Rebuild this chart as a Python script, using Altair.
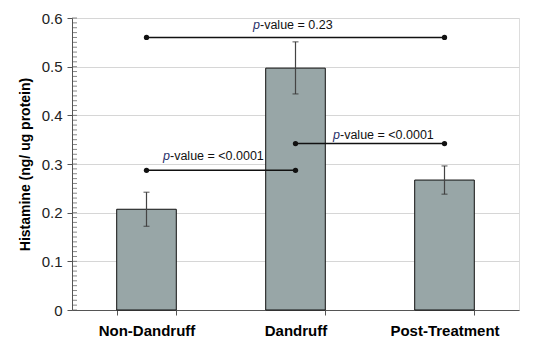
import altair as alt
import pandas as pd

categories = ["Non-Dandruff", "Dandruff", "Post-Treatment"]
means = [0.207, 0.497, 0.267]
err_lo = [0.172, 0.444, 0.238]
err_hi = [0.242, 0.551, 0.296]

bracket_from = ["Non-Dandruff", "Dandruff", "Non-Dandruff"]
bracket_to = ["Post-Treatment", "Post-Treatment", "Dandruff"]
bracket_level = [0.56, 0.342, 0.287]
p_values = ["0.23", "<0.0001", "<0.0001"]
label_anchor = ["Dandruff", "Dandruff", "Non-Dandruff"]
label_dx = [-35.5, 44.5, 23.5]
label_dy = [-8, -5, -10]

y_ticks = [0, 0.1, 0.2, 0.3, 0.4, 0.5, 0.6]
minor_ticks = [round(i * 0.01, 2) for i in range(61)]

FONT = "Liberation Sans"

bars_df = pd.DataFrame({"cat": categories, "mean": means, "lo": err_lo, "hi": err_hi})
br_df = pd.DataFrame({"a": bracket_from, "b": bracket_to, "level": bracket_level})
pts_df = pd.DataFrame({
    "cat": bracket_from + bracket_to,
    "level": bracket_level + bracket_level,
})
minor_df = pd.DataFrame({"v": minor_ticks})

xscale = alt.Scale(domain=categories, paddingInner=0.6, paddingOuter=0.3)
yscale = alt.Scale(domain=[0, 0.6], nice=False, zero=True)

xaxis = alt.Axis(title=None, tickBand="extent", labelAngle=0,
                 labelFont=FONT, labelFontSize=15, labelFontWeight="bold",
                 labelColor="#000", labelPadding=8, tickSize=5,
                 tickColor="#555", domainColor="#555", grid=False)
yaxis = alt.Axis(title="Histamine (ng/ ug protein)", values=y_ticks,
                 labelExpr="datum.value == 0 ? '0' : format(datum.value, '.1f')",
                 titleFont=FONT, titleFontSize=14, titleFontWeight="bold",
                 titleColor="#000", titlePadding=9,
                 labelFont=FONT, labelFontSize=15, labelColor="#222",
                 labelPadding=5, tickSize=5, tickColor="#555",
                 domainColor="#555", gridColor="#d6d6d6")


def X(field):
    return alt.X(field, scale=xscale, sort=categories, axis=xaxis)


def Y(field):
    return alt.Y(field, scale=yscale, axis=yaxis)


bars = alt.Chart(bars_df).mark_bar(color="#98a6a7", stroke="#111", strokeWidth=1).encode(
    x=X("cat:N"), y=Y("mean:Q"),
)

err = alt.Chart(bars_df).mark_rule(color="#444", strokeWidth=1.2).encode(
    x=X("cat:N"), y=Y("lo:Q"), y2="hi:Q",
)
cap_lo = alt.Chart(bars_df).mark_tick(color="#333", size=6, thickness=1.2, orient="horizontal").encode(
    x=X("cat:N"), y=Y("lo:Q"),
)
cap_hi = alt.Chart(bars_df).mark_tick(color="#333", size=6, thickness=1.2, orient="horizontal").encode(
    x=X("cat:N"), y=Y("hi:Q"),
)

brackets = alt.Chart(br_df).mark_rule(color="#111", strokeWidth=1.5).encode(
    x=X("a:N"), x2="b:N", y=Y("level:Q"),
)
points = alt.Chart(pts_df).mark_circle(color="#111", size=28, opacity=1).encode(
    x=X("cat:N"), y=Y("level:Q"),
)

minor = alt.Chart(minor_df).mark_tick(color="#555", size=5, thickness=1, orient="horizontal").encode(
    x=alt.value(2.5),
    y=Y("v:Q"),
)

texts = []
for anchor, lvl, pv, dx, dy in zip(label_anchor, bracket_level, p_values, label_dx, label_dy):
    d = pd.DataFrame({"cat": [anchor], "level": [lvl], "p": ["p"], "rest": ["-value = " + pv]})
    t1 = alt.Chart(d).mark_text(font=FONT, fontSize=12.5, fontStyle="italic", color="#27306b",
                                align="right", baseline="alphabetic", dx=dx, dy=dy).encode(
        x=X("cat:N"), y=Y("level:Q"), text="p:N",
    )
    t2 = alt.Chart(d).mark_text(font=FONT, fontSize=12.5, color="#111",
                                align="left", baseline="alphabetic", dx=dx, dy=dy).encode(
        x=X("cat:N"), y=Y("level:Q"), text="rest:N",
    )
    texts += [t1, t2]

chart = alt.layer(bars, minor, err, cap_lo, cap_hi, brackets, points, *texts).properties(
    width=447, height=292,
    autosize=alt.AutoSizeParams(type="none"),
    padding={"left": 72, "top": 18, "right": 15, "bottom": 34},
).configure_view(stroke="#c0c0c0", strokeWidth=1.5).configure(background="white")

chart.save("out.html", embed_options={"renderer": "svg", "actions": False})
